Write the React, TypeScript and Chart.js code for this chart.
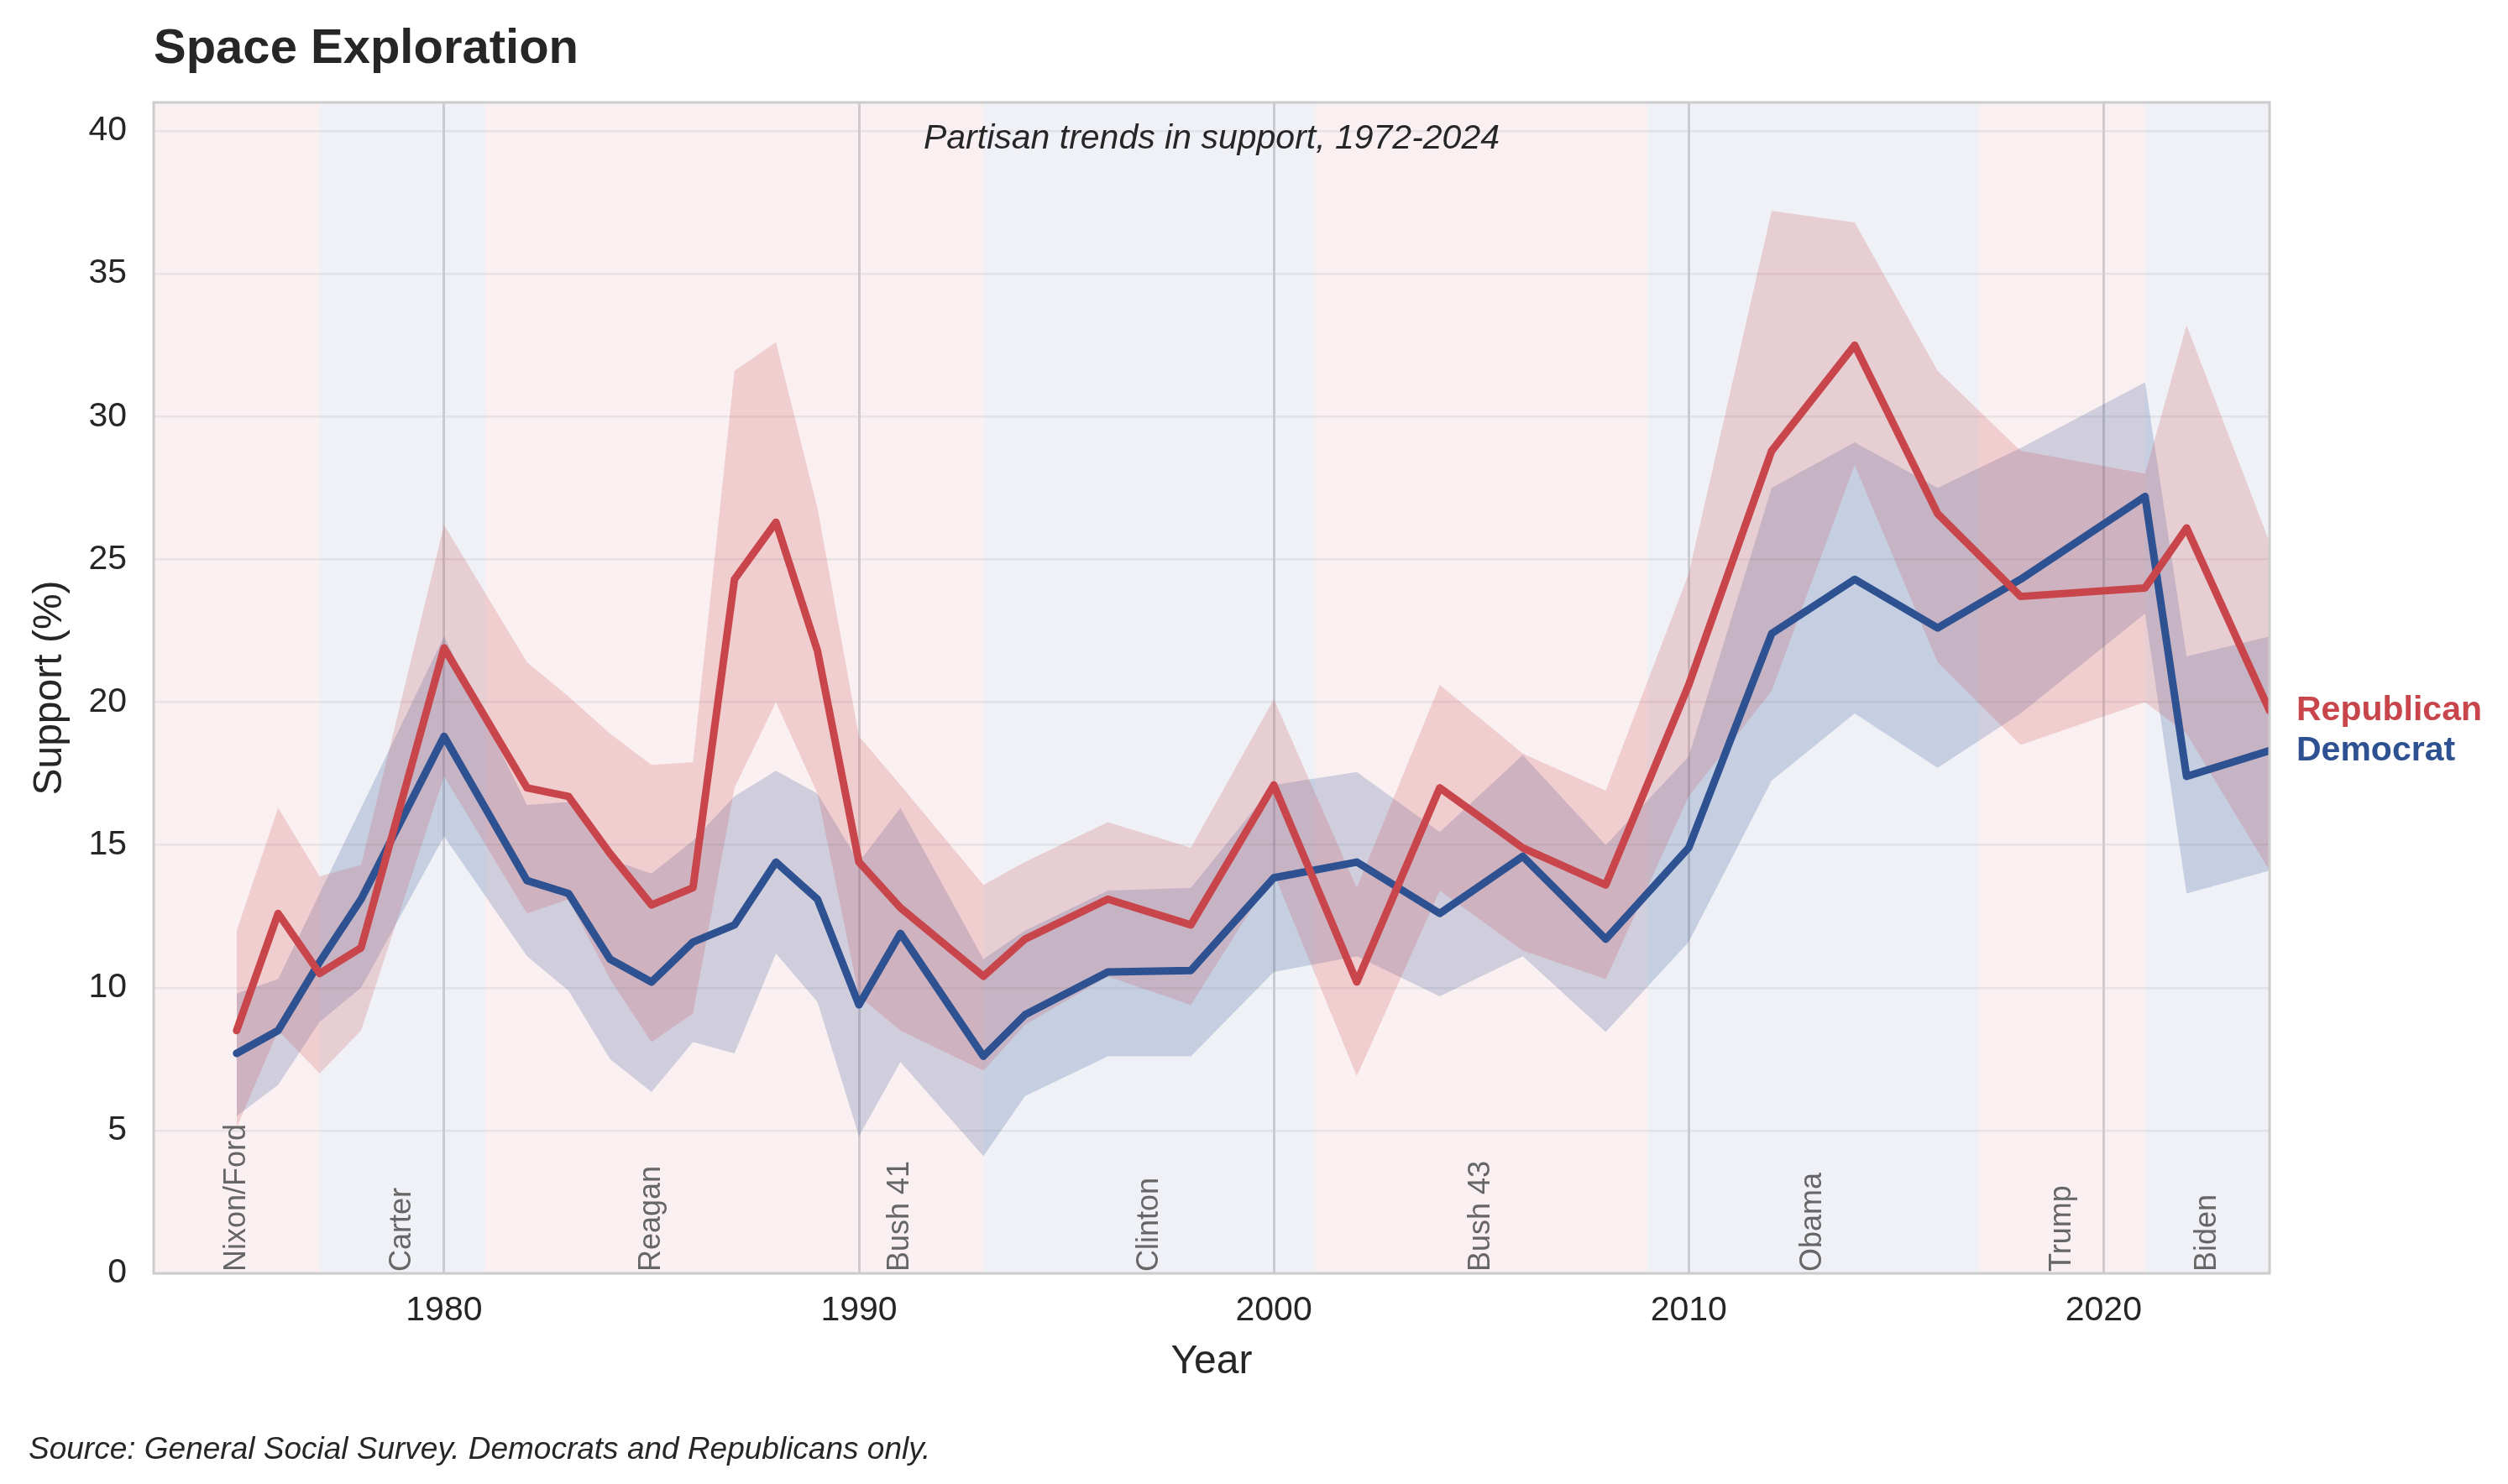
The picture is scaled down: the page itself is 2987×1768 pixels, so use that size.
import React, { useEffect, useRef } from "react";
import { Chart, registerables } from "chart.js";

Chart.register(...registerables);

// ---------- data ----------
const years = [1975, 1976, 1977, 1978, 1980, 1982, 1983, 1984, 1985, 1986, 1987, 1988, 1989, 1990, 1991, 1993, 1994, 1996, 1998, 2000, 2002, 2004, 2006, 2008, 2010, 2012, 2014, 2016, 2018, 2021, 2022, 2024];

const repMean = [8.5, 12.6, 10.5, 11.4, 21.9, 17.0, 16.7, 14.7, 12.9, 13.5, 24.3, 26.3, 21.8, 14.4, 12.8, 10.4, 11.7, 13.1, 12.2, 17.1, 10.2, 17.0, 14.9, 13.6, 20.6, 28.8, 32.5, 26.6, 23.7, 24.0, 26.1, 19.7];
const repUpper = [12.0, 16.3, 13.9, 14.3, 26.2, 21.4, 20.2, 18.9, 17.8, 17.9, 31.6, 32.6, 26.8, 18.8, 17.1, 13.6, 14.4, 15.8, 14.9, 20.1, 13.5, 20.6, 18.2, 16.9, 24.5, 37.2, 36.8, 31.6, 28.8, 28.0, 33.2, 25.6];
const repLower = [5.1, 8.5, 7.0, 8.5, 17.4, 12.6, 13.1, 10.3, 8.1, 9.1, 17.0, 20.0, 16.8, 9.7, 8.5, 7.1, 8.7, 10.4, 9.4, 14.0, 6.9, 13.4, 11.3, 10.3, 16.7, 20.4, 28.3, 21.4, 18.5, 20.0, 18.9, 14.1];

const demMean = [7.7, 8.5, 10.9, 13.1, 18.8, 13.75, 13.3, 11.0, 10.2, 11.6, 12.2, 14.4, 13.1, 9.4, 11.9, 7.6, 9.05, 10.55, 10.6, 13.85, 14.4, 12.6, 14.6, 11.7, 14.9, 22.4, 24.3, 22.6, 24.3, 27.2, 17.4, 18.3];
const demUpper = [9.8, 10.3, 13.3, 16.3, 22.3, 16.4, 16.5, 14.5, 14.0, 15.15, 16.7, 17.6, 16.8, 14.4, 16.3, 11.0, 12.0, 13.4, 13.5, 17.1, 17.55, 15.45, 18.15, 15.0, 18.1, 27.5, 29.1, 27.5, 28.9, 31.2, 21.6, 22.3];
const demLower = [5.5, 6.6, 8.8, 10.0, 15.3, 11.1, 9.9, 7.5, 6.35, 8.1, 7.7, 11.2, 9.5, 4.8, 7.4, 4.1, 6.2, 7.6, 7.6, 10.55, 11.1, 9.7, 11.1, 8.45, 11.6, 17.25, 19.6, 17.7, 19.6, 23.1, 13.3, 14.1];

const adminNames = ["Nixon/Ford", "Carter", "Reagan", "Bush 41", "Clinton", "Bush 43", "Obama", "Trump", "Biden"];
const adminStart = [1973, 1977, 1981, 1989, 1993, 2001, 2009, 2017, 2021];
const adminEnd = [1977, 1981, 1989, 1993, 2001, 2009, 2017, 2021, 2024];
const adminParty = ["R", "D", "R", "R", "D", "R", "D", "R", "D"];

const xTicks = [1980, 1990, 2000, 2010, 2020];
const yTicks = [0, 5, 10, 15, 20, 25, 30, 35, 40];

const seriesNames = ["Republican", "Democrat"];
const titleText = "Space Exploration";
const subtitleText = "Partisan trends in support, 1972-2024";
const sourceText = "Source: General Social Survey. Democrats and Republicans only.";

// ---------- styles ----------
const FONT = "'Liberation Sans', Arial, Helvetica, sans-serif";
const RED = "#C8464B";
const BLUE = "#2D5191";
const RED_BAND = "rgba(200,70,75,0.2)";
const BLUE_BAND = "rgba(45,81,145,0.21)";
const RED_BG = "rgba(200,70,75,0.08)";
const BLUE_BG = "rgba(45,81,145,0.08)";
const TEXT = "#262626";

const W = 2987;
const H = 1768;

const pts = (vals: number[]) => years.map((yr, i) => ({ x: yr, y: vals[i] }));

const decorPlugin = {
  id: "decor",
  beforeDraw(chart: any) {
    const { ctx, chartArea: a, scales } = chart;
    const x = scales.x;
    ctx.save();
    ctx.fillStyle = "#ffffff";
    ctx.fillRect(0, 0, chart.width, chart.height);
    adminNames.forEach((_, i) => {
      const x0 = x.getPixelForValue(Math.max(adminStart[i], x.min));
      const x1 = x.getPixelForValue(Math.min(adminEnd[i], x.max));
      ctx.fillStyle = adminParty[i] === "R" ? RED_BG : BLUE_BG;
      ctx.fillRect(x0, a.top, x1 - x0, a.bottom - a.top);
    });
    ctx.restore();
  },
  afterDatasetsDraw(chart: any) {
    const { ctx, chartArea: a, scales } = chart;
    const x = scales.x;
    const y = scales.y;
    ctx.save();
    ctx.fillStyle = "#666666";
    ctx.font = `36px ${FONT}`;
    ctx.textAlign = "left";
    ctx.textBaseline = "middle";
    adminNames.forEach((name, i) => {
      const cx = x.getPixelForValue((Math.max(adminStart[i], x.min) + Math.min(adminEnd[i], x.max)) / 2);
      ctx.save();
      ctx.translate(cx, y.getPixelForValue(0) - 2);
      ctx.rotate(-Math.PI / 2);
      ctx.fillText(name, 0, 0);
      ctx.restore();
    });
    ctx.strokeStyle = "#cccccc";
    ctx.lineWidth = 3;
    ctx.strokeRect(a.left, a.top, a.right - a.left, a.bottom - a.top);
    ctx.fillStyle = TEXT;
    ctx.font = `italic 41px ${FONT}`;
    ctx.textAlign = "center";
    ctx.textBaseline = "middle";
    ctx.fillText(subtitleText, (a.left + a.right) / 2, a.top + 44);
    ctx.restore();
  },
  afterDraw(chart: any) {
    const { ctx, chartArea: a, scales } = chart;
    const y = scales.y;
    ctx.save();
    ctx.fillStyle = TEXT;
    ctx.font = `bold 58px ${FONT}`;
    ctx.textAlign = "left";
    ctx.textBaseline = "alphabetic";
    ctx.fillText(titleText, a.left, 75);

    ctx.font = `italic 37px ${FONT}`;
    ctx.textBaseline = "middle";
    ctx.fillText(sourceText, 34, chart.height - 40);

    ctx.font = `bold 41px ${FONT}`;
    ctx.fillStyle = RED;
    ctx.fillText(seriesNames[0], a.right + 32, y.getPixelForValue(repMean[repMean.length - 1]));
    ctx.fillStyle = BLUE;
    ctx.fillText(seriesNames[1], a.right + 32, y.getPixelForValue(demMean[demMean.length - 1]));
    ctx.restore();
  },
};

export default function App() {
  const ref = useRef<HTMLCanvasElement | null>(null);

  useEffect(() => {
    document.body.style.margin = "0";
    if (!ref.current) return;
    const bandBase = {
      pointRadius: 0,
      pointHoverRadius: 0,
      borderWidth: 0,
      borderColor: "rgba(0,0,0,0)",
      tension: 0,
    };
    const lineBase = {
      pointRadius: 0,
      pointHoverRadius: 0,
      borderWidth: 9,
      borderJoinStyle: "round" as const,
      borderCapStyle: "round" as const,
      tension: 0,
      fill: false,
    };
    const chart = new Chart(ref.current, {
      type: "line",
      data: {
        datasets: [
          { ...lineBase, label: seriesNames[0], data: pts(repMean), borderColor: RED },
          { ...lineBase, label: seriesNames[1], data: pts(demMean), borderColor: BLUE },
          { ...bandBase, label: "rep_hi", data: pts(repUpper), fill: "+1", backgroundColor: RED_BAND },
          { ...bandBase, label: "rep_lo", data: pts(repLower), fill: false },
          { ...bandBase, label: "dem_hi", data: pts(demUpper), fill: "+1", backgroundColor: BLUE_BAND },
          { ...bandBase, label: "dem_lo", data: pts(demLower), fill: false },
        ] as any,
      },
      options: {
        animation: false,
        responsive: false,
        devicePixelRatio: 1,
        events: [],
        layout: { padding: { top: 122, right: 284, bottom: 0, left: 0 } },
        plugins: {
          legend: { display: false },
          tooltip: { enabled: false },
          title: { display: false },
        },
        scales: {
          x: {
            type: "linear",
            min: 1973,
            max: 2024,
            afterBuildTicks: (s: any) => {
              s.ticks = xTicks.map((v) => ({ value: v }));
            },
            afterFit: (s: any) => {
              s.height = 251;
            },
            grid: { color: "rgba(160,160,165,0.47)", lineWidth: 3, drawTicks: false },
            border: { display: false },
            ticks: {
              color: TEXT,
              font: { family: FONT, size: 41 },
              padding: 20,
              maxRotation: 0,
              autoSkip: false,
              callback: (v: any) => String(v),
            },
            title: {
              display: true,
              text: "Year",
              color: TEXT,
              font: { family: FONT, size: 48 },
              padding: { top: 0, bottom: 116 },
            },
          },
          y: {
            type: "linear",
            min: 0,
            max: 41,
            afterBuildTicks: (s: any) => {
              s.ticks = yTicks.map((v) => ({ value: v }));
            },
            afterFit: (s: any) => {
              s.width = 183;
            },
            grid: { color: "rgba(205,205,210,0.4)", lineWidth: 2.5, drawTicks: false },
            border: { display: false },
            ticks: {
              color: TEXT,
              font: { family: FONT, size: 41 },
              padding: 32,
              autoSkip: false,
              callback: (v: any) => String(v),
            },
            title: {
              display: true,
              text: "Support (%)",
              color: TEXT,
              font: { family: FONT, size: 48 },
              padding: { top: 31, bottom: 0 },
            },
          },
        },
      } as any,
      plugins: [decorPlugin],
    });
    return () => chart.destroy();
  }, []);

  return (
    <div style={{ width: W, height: H, background: "#fff", overflow: "hidden" }}>
      <canvas ref={ref} width={W} height={H} style={{ width: W, height: H, display: "block" }} />
    </div>
  );
}
